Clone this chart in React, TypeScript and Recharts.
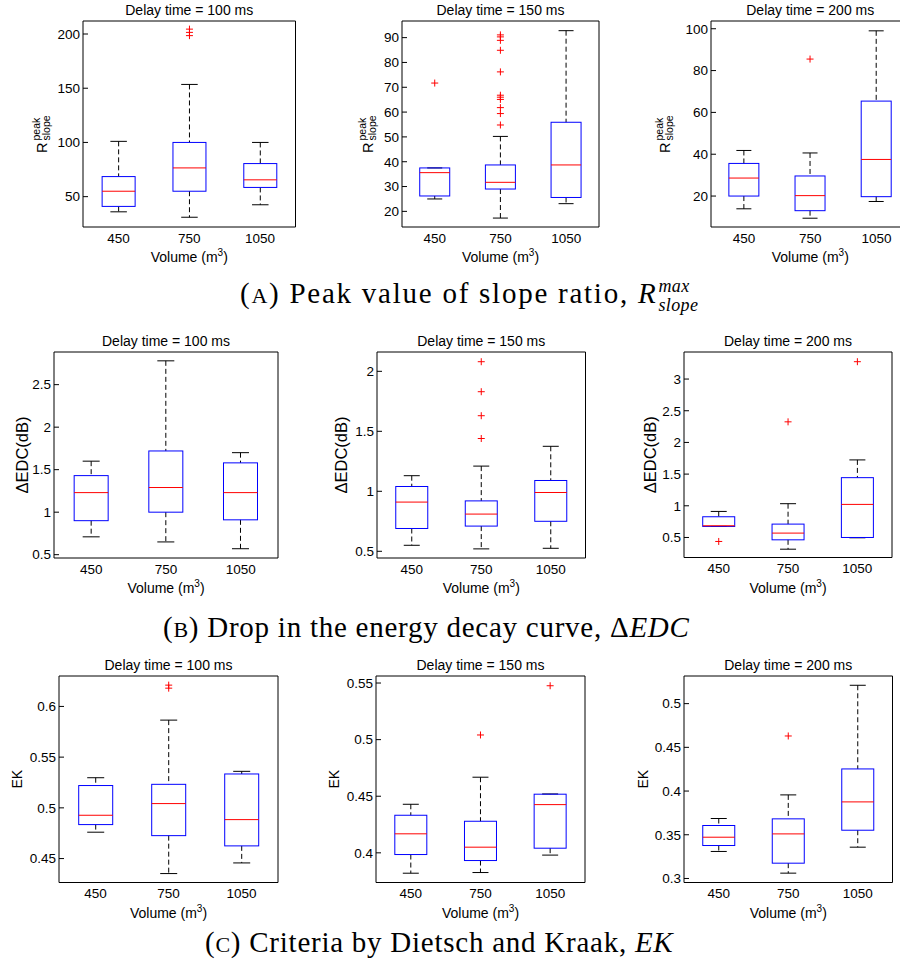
import { ComposedChart, Bar, XAxis, YAxis } from 'recharts';

const volumes = ['450', '750', '1050'];
const delays = ['100', '150', '200'];

// box stats per volume: [lower whisker, Q1, median, Q3, upper whisker]
const slope100 = [[36, 41, 55, 68.5, 101], [31, 55, 76.5, 100, 153.5], [42.5, 58.5, 65.5, 80.5, 100]];
const slope100Out = [[], [198.5, 201.5, 204.5], []];
const slope150 = [[25, 26.2, 35.6, 37.5, 37.5], [17.3, 29, 31.7, 38.7, 50.2], [23.1, 25.6, 38.7, 55.9, 92.8]];
const slope150Out = [[71.7], [54.8, 59.4, 61.8, 65.1, 66, 66.8, 76.2, 84.9, 88.9, 90.3, 91.1], []];
const slope200 = [[13.9, 20, 28.6, 35.6, 41.8], [9.4, 13, 20.2, 29.6, 40.6], [17.4, 19.7, 37.5, 65.4, 99]];
const slope200Out = [[], [85.5], []];

const edc100 = [[0.71, 0.9, 1.23, 1.43, 1.6], [0.65, 1.0, 1.29, 1.72, 2.78], [0.57, 0.91, 1.23, 1.58, 1.7]];
const edc100Out = [[], [], []];
const edc150 = [[0.55, 0.69, 0.91, 1.04, 1.13], [0.52, 0.71, 0.81, 0.92, 1.21], [0.525, 0.75, 0.99, 1.09, 1.375]];
const edc150Out = [[], [1.44, 1.63, 1.83, 2.08], []];
const edc200 = [[0.674, 0.674, 0.685, 0.827, 0.911], [0.315, 0.463, 0.569, 0.711, 1.033], [0.495, 0.5, 1.022, 1.444, 1.724]];
const edc200Out = [[0.437], [2.325], [3.274]];

const ek100 = [[0.476, 0.4835, 0.4927, 0.522, 0.5297], [0.4352, 0.4726, 0.5042, 0.5232, 0.5865], [0.4457, 0.4625, 0.4884, 0.5334, 0.536]];
const ek100Out = [[], [0.618, 0.621], []];
const ek150 = [[0.382, 0.3985, 0.4168, 0.4332, 0.4429], [0.3826, 0.3932, 0.405, 0.4279, 0.4668], [0.398, 0.4041, 0.4426, 0.4518, 0.452]];
const ek150Out = [[], [0.5041], [0.5476]];
const ek200 = [[0.3309, 0.3377, 0.3472, 0.3606, 0.3686], [0.3061, 0.3175, 0.351, 0.3682, 0.3956], [0.3358, 0.3552, 0.3876, 0.4253, 0.521]];
const ek200Out = [[], [0.463], []];

const slopeTicks100 = [50, 100, 150, 200];
const slopeTicks150 = [20, 30, 40, 50, 60, 70, 80, 90];
const slopeTicks200 = [20, 40, 60, 80, 100];
const edcTicks100 = [0.5, 1, 1.5, 2, 2.5];
const edcTicks150 = [0.5, 1, 1.5, 2];
const edcTicks200 = [0.5, 1, 1.5, 2, 2.5, 3];
const ekTicks100 = [0.45, 0.5, 0.55, 0.6];
const ekTicks150 = [0.4, 0.45, 0.5, 0.55];
const ekTicks200 = [0.3, 0.35, 0.4, 0.45, 0.5];

const FONT = '"Liberation Sans", Arial, sans-serif';
const SERIF = '"Liberation Serif", "Times New Roman", serif';

type Row = { vol: string; lo: number; q1: number; med: number; q3: number; hi: number; out: number[] };

const toRows = (stats: number[][], outs: number[][]): Row[] =>
  volumes.map((vol, i) => ({
    vol,
    lo: stats[i][0],
    q1: stats[i][1],
    med: stats[i][2],
    q3: stats[i][3],
    hi: stats[i][4],
    out: outs[i],
  }));

// whiskers, box, median and outliers, placed with the bar's own y scale
function BoxShape(props: any) {
  const { x, y, width, height, payload } = props;
  const { lo, q1, med, q3, hi, out } = payload as Row;
  const py = (v: number) => y + ((hi - v) / (hi - lo)) * height;
  const cx = x + width / 2;
  const cap = width / 4;
  return (
    <g>
      <line x1={cx} x2={cx} y1={py(hi)} y2={py(q3)} stroke="#000" strokeDasharray="5 3" />
      <line x1={cx} x2={cx} y1={py(q1)} y2={py(lo)} stroke="#000" strokeDasharray="5 3" />
      <line x1={cx - cap} x2={cx + cap} y1={py(hi)} y2={py(hi)} stroke="#000" />
      <line x1={cx - cap} x2={cx + cap} y1={py(lo)} y2={py(lo)} stroke="#000" />
      <rect x={x} y={py(q3)} width={width} height={py(q1) - py(q3)} fill="none" stroke="#0000ff" />
      <line x1={x} x2={x + width} y1={py(med)} y2={py(med)} stroke="#ff0000" />
      {out.map((v, i) => (
        <g key={i}>
          <line x1={cx - 3.5} x2={cx + 3.5} y1={py(v)} y2={py(v)} stroke="#ff0000" />
          <line x1={cx} x2={cx} y1={py(v) - 3.5} y2={py(v) + 3.5} stroke="#ff0000" />
        </g>
      ))}
    </g>
  );
}

type Cfg = {
  title: string;
  rows: Row[];
  domain: number[];
  ticks: number[];
  kind: 'slope' | 'edc' | 'ek';
  lab: number;
  box: number[];
};

const panels: Cfg[] = [
  { title: delays[0], rows: toRows(slope100, slope100Out), domain: [22, 212], ticks: slopeTicks100, kind: 'slope', lab: 36, box: [83, 295.5, 21, 227] },
  { title: delays[1], rows: toRows(slope150, slope150Out), domain: [13.7, 96.7], ticks: slopeTicks150, kind: 'slope', lab: 29, box: [402, 599, 21, 227] },
  { title: delays[2], rows: toRows(slope200, slope200Out), domain: [5.2, 103.7], ticks: slopeTicks200, kind: 'slope', lab: 41, box: [710.5, 909, 21, 227] },
  { title: delays[0], rows: toRows(edc100, edc100Out), domain: [0.461, 2.884], ticks: edcTicks100, kind: 'edc', lab: 26, box: [54, 278, 352, 558] },
  { title: delays[1], rows: toRows(edc150, edc150Out), domain: [0.444, 2.161], ticks: edcTicks150, kind: 'edc', lab: 30, box: [376.5, 585, 352, 558] },
  { title: delays[2], rows: toRows(edc200, edc200Out), domain: [0.184, 3.427], ticks: edcTicks200, kind: 'edc', lab: 28, box: [683.5, 891.5, 352, 557.5] },
  { title: delays[0], rows: toRows(ek100, ek100Out), domain: [0.4264, 0.63], ticks: ekTicks100, kind: 'ek', lab: 37.5, box: [59, 278, 675.5, 882] },
  { title: delays[1], rows: toRows(ek150, ek150Out), domain: [0.3738, 0.5562], ticks: ekTicks150, kind: 'ek', lab: 37.5, box: [376, 585, 675.5, 882] },
  { title: delays[2], rows: toRows(ek200, ek200Out), domain: [0.2954, 0.5316], ticks: ekTicks200, kind: 'ek', lab: 36.5, box: [683.5, 892, 675.5, 882] },
];

function YLabel({ viewBox, kind, lab }: any) {
  const bx = viewBox.x + viewBox.width - lab;
  const cy = viewBox.y + viewBox.height / 2;
  if (kind === 'slope') {
    return (
      <g transform={`translate(${bx},${cy + 29}) rotate(-90)`} fontFamily={FONT} fill="#000">
        <text x={0} y={0} fontSize={14.5}>R</text>
        <text x={12.5} y={-7} fontSize={10.5}>peak</text>
        <text x={12.5} y={3} fontSize={10.5}>slope</text>
      </g>
    );
  }
  return (
    <text
      x={bx}
      y={cy}
      transform={`rotate(-90, ${bx}, ${cy})`}
      textAnchor="middle"
      fontFamily={FONT}
      fontSize={kind === 'edc' ? 16.5 : 14}
      fill="#000"
    >
      {kind === 'edc' ? 'ΔEDC(dB)' : 'EK'}
    </text>
  );
}

function XLabel({ viewBox }: any) {
  return (
    <text x={viewBox.x + viewBox.width / 2} y={viewBox.y + 35} textAnchor="middle" fontFamily={FONT} fontSize={14} fill="#000">
      Volume (m<tspan fontSize={10} dy={-6}>3</tspan>
      <tspan dy={6}>)</tspan>
    </text>
  );
}

function Panel({ cfg }: { cfg: Cfg }) {
  const [L, R, T, B] = cfg.box;
  const yw = 70;
  const top = 30;
  const xh = 42;
  const right = 2;
  const w = R - L + yw + right;
  const h = B - T + top + xh;
  const range = (d: Row) => [d.lo, d.hi];
  return (
    <div style={{ position: 'absolute', left: L - yw, top: T - top }}>
      <ComposedChart width={w} height={h} data={cfg.rows} margin={{ top: top - 1, right: right - 1, bottom: 0, left: 0 }} barCategoryGap="27%">
        <XAxis
          dataKey="vol"
          height={xh}
          tickLine={false}
          tickSize={0}
          tickMargin={6}
          stroke="#000"
          tick={{ fill: '#000', fontSize: 13.5, fontFamily: FONT }}
          label={(p: any) => <XLabel viewBox={p.viewBox} />}
        />
        <XAxis
          xAxisId="t"
          orientation="top"
          dataKey="vol"
          height={1}
          tick={false}
          tickLine={false}
          stroke="#000"
          label={{ value: `Delay time = ${cfg.title} ms`, position: 'top', offset: 5, fill: '#000', fontSize: 14, fontFamily: FONT }}
        />
        <YAxis
          type="number"
          domain={cfg.domain}
          ticks={cfg.ticks}
          allowDataOverflow
          width={yw}
          tickSize={-5}
          tickMargin={8}
          stroke="#000"
          tick={{ fill: '#000', fontSize: 13.5, fontFamily: FONT }}
          label={(p: any) => <YLabel viewBox={p.viewBox} kind={cfg.kind} lab={cfg.lab} />}
        />
        <YAxis
          yAxisId="r"
          orientation="right"
          type="number"
          domain={cfg.domain}
          ticks={cfg.ticks}
          allowDataOverflow
          width={1}
          tickSize={-5}
          tick={false}
          stroke="#000"
        />
        <Bar dataKey={range} shape={BoxShape} isAnimationActive={false} />
        {/* empty twin series so the top and right frame axes get a domain */}
        <Bar xAxisId="t" yAxisId="r" dataKey={range} fill="none" stroke="none" isAnimationActive={false} />
      </ComposedChart>
    </div>
  );
}

const capStyle = {
  position: 'absolute' as const,
  fontFamily: SERIF,
  fontSize: 29,
  lineHeight: '32px',
  whiteSpace: 'nowrap' as const,
  color: '#000',
};

export default function App() {
  return (
    <div style={{ position: 'absolute', left: 0, top: 0, width: 900, height: 965, overflow: 'hidden', background: '#fff' }}>
      {panels.map((p, i) => (
        <Panel key={i} cfg={p} />
      ))}
      <div style={{ ...capStyle, left: 240, top: 303 - 26, letterSpacing: 1.75 }}>
        (<span style={{ fontSize: 22 }}>A</span>) Peak value of slope ratio, <i>R</i>
        <span style={{ position: 'relative', display: 'inline-block', width: 44 }}>
          <span style={{ position: 'absolute', left: 1, bottom: 8, fontSize: 18, lineHeight: '18px', fontStyle: 'italic', letterSpacing: 0.4 }}>max</span>
          <span style={{ position: 'absolute', left: 1, top: -7, fontSize: 18, lineHeight: '18px', fontStyle: 'italic', letterSpacing: 0.4 }}>slope</span>
        </span>
      </div>
      <div style={{ ...capStyle, left: 163, top: 637 - 26, letterSpacing: 0.75 }}>
        (<span style={{ fontSize: 22 }}>B</span>) Drop in the energy decay curve, Δ<i>EDC</i>
      </div>
      <div style={{ ...capStyle, left: 205, top: 952 - 26, letterSpacing: 0.75 }}>
        (<span style={{ fontSize: 22 }}>C</span>) Criteria by Dietsch and Kraak, <i>EK</i>
      </div>
    </div>
  );
}
